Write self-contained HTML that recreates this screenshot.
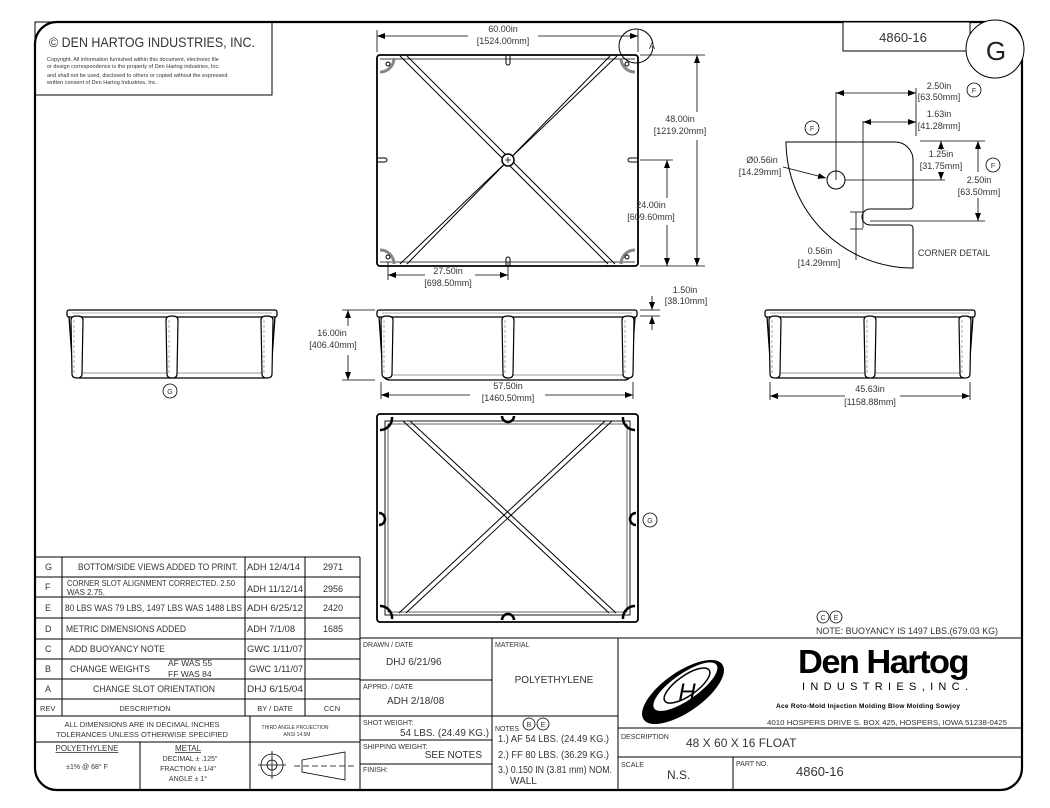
<!DOCTYPE html>
<html><head><meta charset="utf-8"><style>
html,body{margin:0;padding:0;background:#fff;}
svg{display:block;}
text{font-family:"Liberation Sans",sans-serif;fill:#333;}
</style></head><body>
<svg width="1050" height="808" viewBox="0 0 1050 808" xmlns="http://www.w3.org/2000/svg">
<defs>
<marker id="ar" markerWidth="8" markerHeight="6" refX="8" refY="3" orient="auto-start-reverse" markerUnits="userSpaceOnUse"><path d="M0,0 L8,3 L0,6z" fill="#000"/></marker>
<g id="post"><path d="M1 4 Q1 0 7 0 Q13 0 13 4 L12 58 Q12 62 7 62 Q2 62 2 58 Z" fill="#fff" stroke="#000" stroke-width="1.2"/><line x1="4" y1="4" x2="4" y2="58" stroke="#888" stroke-dasharray="3,2" stroke-width="0.7"/></g>
</defs>
<g fill="none" stroke="#000">
<rect x="35" y="22" width="987" height="768" rx="22" stroke-width="2.2"/>
<rect x="35" y="22" width="237" height="73" stroke-width="1"/>
<rect x="843" y="22" width="127" height="29" stroke-width="1" fill="#fff"/>
<circle cx="995" cy="49" r="29" stroke-width="1" fill="#fff"/>

<!-- TOP VIEW -->
<rect x="377" y="55" width="261" height="211" rx="3" stroke-width="1.8"/>
<line x1="380" y1="59" x2="635" y2="59" stroke-width="0.8"/>
<line x1="380" y1="262" x2="635" y2="262" stroke-width="0.8"/>
<line x1="400" y1="56" x2="608" y2="264" stroke-width="1"/>
<line x1="407" y1="56" x2="615" y2="264" stroke-width="1"/>
<line x1="617" y1="56" x2="400" y2="264" stroke-width="1"/>
<line x1="610" y1="56" x2="407" y2="264" stroke-width="1"/>
<circle cx="508" cy="160" r="6" fill="#fff" stroke-width="1.5"/>
<path d="M505 160h6M508 157v6" stroke-width="0.8"/>
<g stroke="#888" stroke-width="3"><path d="M380 72a14 14 0 0 0 14-14"/><path d="M635 72a14 14 0 0 1-14-14"/><path d="M380 250a14 14 0 0 1 14 14"/><path d="M635 250a14 14 0 0 0-14 14"/></g>
<g stroke-width="1"><circle cx="388" cy="64" r="2"/><circle cx="627" cy="64" r="2"/><circle cx="388" cy="257" r="2"/><circle cx="627" cy="257" r="2"/>
<path d="M506 56v7a2 2 0 0 0 4 0v-7"/><path d="M506 266v-7a2 2 0 0 1 4 0v7"/><path d="M378 158h7a2 2 0 0 1 0 4h-7"/><path d="M637 158h-7a2 2 0 0 0 0 4h7"/></g>
<circle cx="636" cy="46" r="17" stroke-width="1"/>
<g stroke-width="0.8">
<line x1="377" y1="30" x2="377" y2="52"/><line x1="638" y1="30" x2="638" y2="52"/>
<line x1="377" y1="36" x2="468" y2="36" marker-start="url(#ar)"/><line x1="538" y1="36" x2="638" y2="36" marker-end="url(#ar)"/>
<line x1="640" y1="55" x2="705" y2="55"/><line x1="640" y1="266" x2="705" y2="266"/>
<line x1="697" y1="55" x2="697" y2="112" marker-start="url(#ar)"/><line x1="697" y1="140" x2="697" y2="266" marker-end="url(#ar)"/>
<line x1="640" y1="160" x2="673" y2="160"/>
<line x1="667" y1="160" x2="667" y2="198" marker-start="url(#ar)"/><line x1="667" y1="225" x2="667" y2="266" marker-end="url(#ar)"/>
<line x1="388" y1="262" x2="388" y2="280"/><line x1="508" y1="262" x2="508" y2="280"/>
<line x1="388" y1="275" x2="425" y2="275" marker-start="url(#ar)"/><line x1="475" y1="275" x2="508" y2="275" marker-end="url(#ar)"/>
</g>

<!-- CORNER DETAIL -->
<path d="M786 142 H895 a18 18 0 0 1 18 18 V206 a3 3 0 0 1 -3 3 H870 a8 8 0 0 0 0 16 H910 a3 3 0 0 1 3 3 V268 A127 127 0 0 1 786 142 Z" stroke-width="1"/>
<circle cx="836" cy="180" r="9" stroke-width="1"/>
<g stroke-width="0.8">
<line x1="836" y1="92" x2="836" y2="180"/><line x1="916" y1="88" x2="916" y2="136"/>
<line x1="836" y1="93" x2="916" y2="93" marker-start="url(#ar)" marker-end="url(#ar)"/>
<line x1="863" y1="121" x2="863" y2="228"/>
<line x1="863" y1="122" x2="916" y2="122" marker-start="url(#ar)" marker-end="url(#ar)"/>
<line x1="920" y1="141" x2="985" y2="141"/><line x1="845" y1="180" x2="945" y2="180"/>
<line x1="941" y1="141" x2="941" y2="150" marker-start="url(#ar)"/><line x1="941" y1="172" x2="941" y2="180" marker-end="url(#ar)"/>
<line x1="870" y1="221" x2="985" y2="221"/>
<line x1="978" y1="141" x2="978" y2="172" marker-start="url(#ar)"/><line x1="978" y1="198" x2="978" y2="221" marker-end="url(#ar)"/>
<line x1="850" y1="212" x2="863" y2="212"/><line x1="850" y1="229" x2="863" y2="229"/>
<line x1="856" y1="212" x2="856" y2="260"/>
<line x1="783" y1="167" x2="826" y2="178" marker-end="url(#ar)"/>
</g>
<g stroke-width="0.8"><circle cx="812" cy="128" r="7"/><circle cx="974" cy="90" r="7"/><circle cx="993" cy="165" r="7"/></g>

<!-- SIDE VIEWS -->
<rect x="67" y="310" width="210" height="7" rx="2" stroke-width="1.3"/>
<path d="M69 317 L73 372 Q74 378 80 378 L264 378 Q270 378 271 372 L275 317" stroke-width="1.3"/>
<line x1="76" y1="373" x2="268" y2="373" stroke="#999" stroke-width="1"/>
<line x1="72" y1="313" x2="272" y2="313" stroke="#999" stroke-width="0.7"/>
<use href="#post" x="70" y="316"/><use href="#post" x="165" y="316"/><use href="#post" x="260" y="316"/>
<rect x="377" y="310" width="260" height="7" rx="2" stroke-width="1.3"/>
<path d="M379 317 L383 374 Q384 380 390 380 L624 380 Q630 380 631 374 L635 317" stroke-width="1.3"/>
<line x1="386" y1="375" x2="628" y2="375" stroke="#999" stroke-width="1"/>
<line x1="382" y1="313" x2="632" y2="313" stroke="#999" stroke-width="0.7"/>
<use href="#post" x="380" y="316"/><use href="#post" x="501" y="316"/><use href="#post" x="621" y="316"/>
<rect x="765" y="310" width="210" height="7" rx="2" stroke-width="1.3"/>
<path d="M767 317 L771 372 Q772 378 778 378 L962 378 Q968 378 969 372 L973 317" stroke-width="1.3"/>
<line x1="774" y1="373" x2="966" y2="373" stroke="#999" stroke-width="1"/>
<line x1="770" y1="313" x2="970" y2="313" stroke="#999" stroke-width="0.7"/>
<use href="#post" x="768" y="316"/><use href="#post" x="863" y="316"/><use href="#post" x="958" y="316"/>
<circle cx="170" cy="391" r="7" stroke-width="0.8"/>
<g stroke-width="0.8">
<line x1="342" y1="310" x2="375" y2="310"/><line x1="342" y1="380" x2="375" y2="380"/>
<line x1="348" y1="310" x2="348" y2="326" marker-start="url(#ar)"/><line x1="348" y1="355" x2="348" y2="380" marker-end="url(#ar)"/>
<line x1="640" y1="310" x2="660" y2="310"/><line x1="640" y1="316" x2="660" y2="316"/>
<line x1="652" y1="296" x2="652" y2="310" marker-end="url(#ar)"/><line x1="652" y1="330" x2="652" y2="316" marker-end="url(#ar)"/>
<line x1="381" y1="382" x2="381" y2="399"/><line x1="633" y1="382" x2="633" y2="399"/>
<line x1="381" y1="395" x2="470" y2="395" marker-start="url(#ar)"/><line x1="545" y1="395" x2="633" y2="395" marker-end="url(#ar)"/>
<line x1="770" y1="382" x2="770" y2="400"/><line x1="970" y1="382" x2="970" y2="400"/>
<line x1="770" y1="396" x2="845" y2="396" marker-start="url(#ar)"/><line x1="900" y1="396" x2="970" y2="396" marker-end="url(#ar)"/>
</g>

<!-- BOTTOM VIEW -->
<rect x="377" y="414" width="261" height="208" rx="3" stroke-width="1.8"/>
<rect x="385" y="421" width="245" height="194" stroke-width="0.9"/>
<rect x="388" y="424" width="239" height="188" stroke-width="0.6"/>
<line x1="403" y1="421" x2="609" y2="613" stroke-width="1"/><line x1="410" y1="421" x2="616" y2="613" stroke-width="1"/>
<line x1="612" y1="421" x2="406" y2="613" stroke-width="1"/><line x1="605" y1="421" x2="399" y2="613" stroke-width="1"/>
<g stroke-width="2.5"><path d="M380 430a12 12 0 0 0 12-13"/><path d="M635 430a12 12 0 0 1-12-13"/><path d="M380 606a12 12 0 0 1 12 13"/><path d="M635 606a12 12 0 0 0-12 13"/>
<path d="M502 416a6 6 0 0 0 12 0"/><path d="M502 620a6 6 0 0 1 12 0"/><path d="M379 513a6 6 0 0 1 0 12"/><path d="M636 513a6 6 0 0 0 0 12"/></g>
<circle cx="650" cy="520" r="7" stroke-width="0.8"/>
<circle cx="823" cy="617" r="6" stroke-width="0.8"/><circle cx="836" cy="617" r="6" stroke-width="0.8"/>

<!-- TABLES -->
<g stroke-width="1">
<path d="M35 557H360 M35 577H360 M35 597H360 M35 618H360 M35 639H360 M35 659H360 M35 679H360 M35 699H360 M35 716H360 M35 742H250 M140 742V790 M250 716V790 M250 742H360 M62 557V716 M245 557V716 M305 557V716 M360 557V790"/>
<path d="M360 638H1022 M492 638V790 M618 638V790 M360 680H492 M360 716H618 M360 740H492 M360 764H492 M618 728H1022 M618 757H1022 M733 757V790"/>
</g>
<g stroke-width="0.8"><circle cx="272" cy="765" r="11"/><circle cx="272" cy="765" r="5"/><path d="M258 765h28M272 751v28"/>
<path d="M302 760 L345 752 V780 L302 772 Z"/><path d="M294 766h60" stroke-dasharray="6,3"/>
<circle cx="529" cy="724" r="6"/><circle cx="543" cy="724" r="6"/></g>
</g>
<!-- logo -->
<g transform="rotate(-35 683 692)"><ellipse cx="683" cy="692" rx="48" ry="20" fill="#000"/><ellipse cx="688" cy="689" rx="38" ry="13" fill="#fff"/><ellipse cx="690" cy="689" rx="27" ry="10" fill="none" stroke="#000" stroke-width="1.5"/></g>
<text x="687" y="700" font-size="24" font-style="italic" style="fill:#000" text-anchor="middle">H</text>

<!-- TEXT -->
<text x="49" y="47" font-size="14" textLength="206" lengthAdjust="spacingAndGlyphs">© DEN HARTOG INDUSTRIES, INC.</text>
<g font-size="5.5"><text x="47" y="61">Copyright. All information furnished within this document, electronic file</text><text x="47" y="68">or design correspondence is the property of Den Hartog industries, Inc.</text><text x="47" y="77">and shall not be used, disclosed to others or copied without the expressed</text><text x="47" y="84">written consent of Den Hartog Industries, Inc.</text></g>
<text x="903" y="42" font-size="13" text-anchor="middle">4860-16</text>
<text x="996" y="60" font-size="26" text-anchor="middle" style="fill:#222">G</text>
<text x="649" y="49" font-size="9">A</text>
<g font-size="9" text-anchor="middle">
<text x="503" y="32">60.00in</text><text x="503" y="44">[1524.00mm]</text>
<text x="680" y="122">48.00in</text><text x="680" y="134">[1219.20mm]</text>
<text x="651" y="208">24.00in</text><text x="651" y="220">[609.60mm]</text>
<text x="448" y="274">27.50in</text><text x="448" y="286">[698.50mm]</text>
<text x="939" y="89">2.50in</text><text x="939" y="100">[63.50mm]</text>
<text x="939" y="117">1.63in</text><text x="939" y="129">[41.28mm]</text>
<text x="941" y="157">1.25in</text><text x="941" y="169">[31.75mm]</text>
<text x="979" y="183">2.50in</text><text x="979" y="195">[63.50mm]</text>
<text x="762" y="163">Ø0.56in</text><text x="760" y="175">[14.29mm]</text>
<text x="820" y="254">0.56in</text><text x="819" y="266">[14.29mm]</text>
<text x="332" y="336">16.00in</text><text x="333" y="348">[406.40mm]</text>
<text x="685" y="293">1.50in</text><text x="686" y="304">[38.10mm]</text>
<text x="508" y="389">57.50in</text><text x="508" y="401">[1460.50mm]</text>
<text x="870" y="392">45.63in</text><text x="870" y="405">[1158.88mm]</text>
</g>
<text x="954" y="256" font-size="9" text-anchor="middle">CORNER DETAIL</text>
<g font-size="7" text-anchor="middle"><text x="812" y="131">F</text><text x="974" y="93">F</text><text x="993" y="168">F</text><text x="170" y="394">G</text><text x="650" y="523">G</text><text x="823" y="620">C</text><text x="836" y="620">E</text><text x="529" y="727">B</text><text x="543" y="727">E</text></g>
<text x="998" y="634" font-size="9" text-anchor="end" textLength="182" lengthAdjust="spacingAndGlyphs">NOTE: BUOYANCY IS 1497 LBS.(679.03 KG)</text>

<g font-size="9" lengthAdjust="spacingAndGlyphs">
<text x="45" y="570">G</text><text x="78" y="570" textLength="160" lengthAdjust="spacingAndGlyphs">BOTTOM/SIDE VIEWS ADDED TO PRINT.</text><text x="247" y="570" textLength="53" lengthAdjust="spacingAndGlyphs">ADH 12/4/14</text><text x="333" y="570" text-anchor="middle">2971</text>
<text x="45" y="590">F</text><text x="67" y="586" font-size="8" textLength="168" lengthAdjust="spacingAndGlyphs">CORNER SLOT ALIGNMENT CORRECTED. 2.50</text><text x="67" y="595" font-size="8">WAS 2.75.</text><text x="247" y="592" textLength="56" lengthAdjust="spacingAndGlyphs">ADH 11/12/14</text><text x="333" y="592" text-anchor="middle">2956</text>
<text x="45" y="611">E</text><text x="65" y="611" textLength="177" lengthAdjust="spacingAndGlyphs">80 LBS WAS 79 LBS, 1497 LBS WAS 1488 LBS</text><text x="247" y="611" textLength="56" lengthAdjust="spacingAndGlyphs">ADH 6/25/12</text><text x="333" y="611" text-anchor="middle">2420</text>
<text x="45" y="632">D</text><text x="66" y="632" textLength="120" lengthAdjust="spacingAndGlyphs">METRIC DIMENSIONS ADDED</text><text x="247" y="632" textLength="48" lengthAdjust="spacingAndGlyphs">ADH 7/1/08</text><text x="333" y="632" text-anchor="middle">1685</text>
<text x="45" y="652">C</text><text x="69" y="652" textLength="96" lengthAdjust="spacingAndGlyphs">ADD BUOYANCY NOTE</text><text x="247" y="652" textLength="56" lengthAdjust="spacingAndGlyphs">GWC 1/11/07</text>
<text x="45" y="672">B</text><text x="70" y="672" textLength="80" lengthAdjust="spacingAndGlyphs">CHANGE WEIGHTS</text><text x="168" y="666" font-size="8.5">AF WAS 55</text><text x="168" y="677" font-size="8.5">FF WAS 84</text><text x="249" y="672" textLength="54" lengthAdjust="spacingAndGlyphs">GWC 1/11/07</text>
<text x="45" y="692">A</text><text x="154" y="692" text-anchor="middle" textLength="122" lengthAdjust="spacingAndGlyphs">CHANGE SLOT ORIENTATION</text><text x="247" y="692" textLength="56" lengthAdjust="spacingAndGlyphs">DHJ 6/15/04</text>
<text x="40" y="711" font-size="7.5">REV</text><text x="145" y="711" font-size="7.5" text-anchor="middle">DESCRIPTION</text><text x="275" y="711" font-size="7.5" text-anchor="middle">BY / DATE</text><text x="332" y="711" font-size="7.5" text-anchor="middle">CCN</text>
<text x="142" y="727" font-size="7.5" text-anchor="middle">ALL DIMENSIONS ARE IN DECIMAL INCHES</text><text x="142" y="737" font-size="7.5" text-anchor="middle">TOLERANCES UNLESS OTHERWISE SPECIFIED</text>
<text x="87" y="751" font-size="8" text-anchor="middle" text-decoration="underline">POLYETHYLENE</text><text x="87" y="769" font-size="7" text-anchor="middle">±1% @ 68° F</text>
<text x="188" y="751" font-size="8" text-anchor="middle" text-decoration="underline">METAL</text><text x="190" y="761" font-size="7" text-anchor="middle">DECIMAL ± .125"</text><text x="188" y="771" font-size="7" text-anchor="middle">FRACTION ± 1/4"</text><text x="188" y="781" font-size="7" text-anchor="middle">ANGLE ± 1°</text>
<text x="295" y="729" font-size="5" text-anchor="middle">THIRD ANGLE PROJECTION</text><text x="297" y="736" font-size="5" text-anchor="middle">ANSI 14.5M</text>
</g>
<g font-size="7">
<text x="363" y="647">DRAWN / DATE</text><text x="363" y="689">APPRD. / DATE</text><text x="363" y="725">SHOT WEIGHT:</text><text x="363" y="749">SHIPPING WEIGHT:</text><text x="363" y="772">FINISH:</text>
<text x="495" y="647">MATERIAL</text><text x="495" y="731">NOTES</text><text x="621" y="739">DESCRIPTION</text><text x="621" y="767">SCALE</text><text x="736" y="766">PART NO.</text>
</g>
<g font-size="10">
<text x="386" y="665">DHJ 6/21/96</text><text x="387" y="704">ADH 2/18/08</text>
<text x="489" y="736" text-anchor="end" textLength="89" lengthAdjust="spacingAndGlyphs">54 LBS. (24.49 KG.)</text><text x="482" y="758" text-anchor="end">SEE NOTES</text>
<text x="554" y="683" text-anchor="middle">POLYETHYLENE</text>
<text x="498" y="742" textLength="111" lengthAdjust="spacingAndGlyphs">1.) AF 54 LBS. (24.49 KG.)</text><text x="498" y="758" textLength="111" lengthAdjust="spacingAndGlyphs">2.) FF 80 LBS. (36.29 KG.)</text><text x="498" y="773" textLength="114" lengthAdjust="spacingAndGlyphs">3.) 0.150 IN (3.81 mm) NOM.</text><text x="510" y="784">WALL</text>
</g>
<text x="686" y="747" font-size="12">48 X 60 X 16 FLOAT</text>
<text x="667" y="779" font-size="12">N.S.</text>
<text x="796" y="776" font-size="13">4860-16</text>
<text x="798" y="673" font-size="33" font-weight="bold" style="fill:#000;letter-spacing:-1.5px" textLength="170" lengthAdjust="spacingAndGlyphs">Den Hartog</text>
<text x="802" y="690" font-size="11" style="fill:#000" textLength="166" lengthAdjust="spacing">INDUSTRIES,INC.</text>
<text x="776" y="708" font-size="6.5" font-weight="bold" style="fill:#000" textLength="184" lengthAdjust="spacing">Ace Roto-Mold  Injection Molding  Blow Molding  Sowjoy</text>
<text x="767" y="725" font-size="7.5" textLength="240" lengthAdjust="spacingAndGlyphs">4010 HOSPERS DRIVE S.  BOX 425, HOSPERS, IOWA 51238-0425</text>
</svg>
</body></html>
